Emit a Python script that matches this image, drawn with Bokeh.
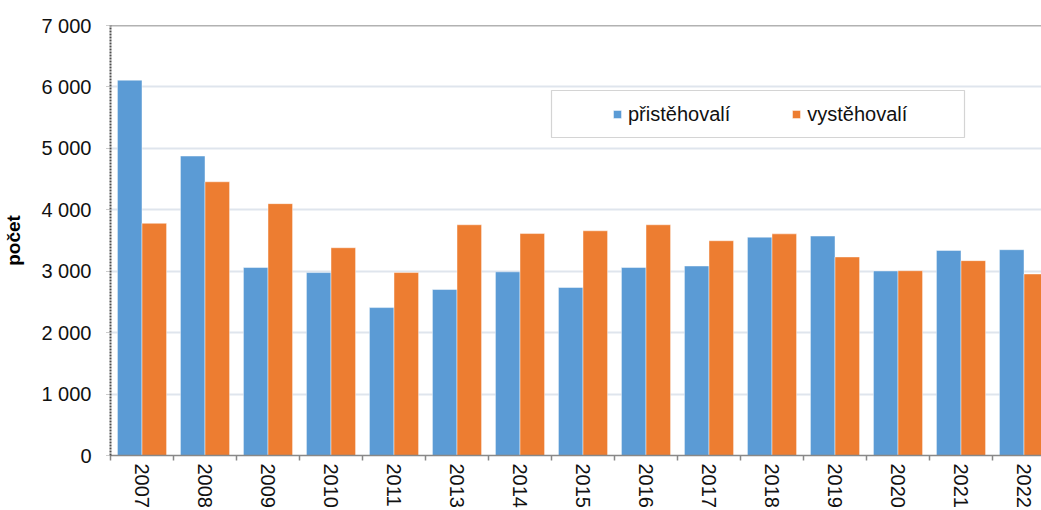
from bokeh.plotting import figure
from bokeh.models import (ColumnDataSource, Range1d, FixedTicker, Legend, LegendItem,
                          Span, BoxAnnotation)
from bokeh.transform import dodge
from bokeh.embed import file_html
from bokeh.resources import INLINE

# ---- data ----
years = ["2007", "2008", "2009", "2010", "2011", "2013", "2014", "2015",
         "2016", "2017", "2018", "2019", "2020", "2021", "2022"]
immigrants = [6110, 4875, 3060, 2978, 2408, 2702, 2990, 2735,
              3060, 3085, 3554, 3572, 3004, 3338, 3350]
emigrants = [3780, 4456, 4100, 3382, 2978, 3756, 3613, 3658,
             3756, 3496, 3608, 3232, 3008, 3172, 2955]
y_ticks = [0, 1000, 2000, 3000, 4000, 5000, 6000, 7000]
y_tick_labels = ["0", "1 000", "2 000", "3 000", "4 000", "5 000", "6 000", "7 000"]
series_names = ["přistěhovalí", "vystěhovalí"]
y_title = "počet"

BLUE = "#5B9BD5"
ORANGE = "#ED7D31"
FONT = "Liberation Sans"

n = len(years)
idx = list(range(n))
src = ColumnDataSource(dict(x=idx, imm=immigrants, emi=emigrants))

W, H = 1041, 510
LEFT, TOP = 110, 25
frame_w = W - LEFT
cat_px = 63.0
x_end = -0.5 + frame_w / cat_px

p = figure(width=W, height=H, output_backend="svg", toolbar_location=None,
           x_range=Range1d(-0.5, x_end), y_range=Range1d(0, 7000),
           min_border_left=LEFT, min_border_top=TOP, min_border_right=0,
           min_border_bottom=0)
p.outline_line_color = None
p.background_fill_color = "white"
p.border_fill_color = "white"

bw = 0.39
r1 = p.vbar(x=dodge("x", -bw / 2, range=p.x_range), top="imm", width=bw, source=src,
            fill_color=BLUE, line_color="white", line_alpha=0.45, line_width=1)
r2 = p.vbar(x=dodge("x", bw / 2, range=p.x_range), top="emi", width=bw, source=src,
            fill_color=ORANGE, line_color="white", line_alpha=0.45, line_width=1)

# grid
p.xgrid.grid_line_color = None
p.ygrid.grid_line_color = "#dfe5ed"
p.ygrid.grid_line_width = 2
p.ygrid.ticker = FixedTicker(ticks=y_ticks)

# y axis
ya = p.yaxis[0]
ya.ticker = FixedTicker(ticks=y_ticks)
ya.major_label_overrides = {t: l for t, l in zip(y_ticks, y_tick_labels)}
ya.major_label_text_font = FONT
ya.major_label_text_font_size = "20px"
ya.major_label_text_color = "#111111"
ya.major_label_standoff = 15
ya.major_tick_out = 4
ya.major_tick_in = 0
ya.major_tick_line_color = "#999999"
ya.major_tick_line_dash = "1 1"
ya.minor_tick_line_color = None
ya.axis_line_color = "#4d4d4d"
ya.axis_line_width = 2
ya.axis_line_dash = "2 1"
ya.axis_label = y_title
ya.axis_label_text_font = FONT
ya.axis_label_text_font_style = "bold"
ya.axis_label_text_font_size = "19px"
ya.axis_label_text_color = "#000000"
ya.axis_label_text_align = "left"
ya.axis_label_standoff = 14

# x axis
xa = p.xaxis[0]
xa.ticker = FixedTicker(ticks=idx, minor_ticks=[i - 0.5 for i in range(n + 1)])
xa.major_label_overrides = {i: y for i, y in zip(idx, years)}
xa.major_label_orientation = "vertical"
xa.major_label_text_font = FONT
xa.major_label_text_font_size = "20px"
xa.major_label_text_color = "#111111"
xa.major_label_standoff = 3
xa.major_tick_out = 5
xa.major_tick_in = 0
xa.major_tick_line_color = None
xa.minor_tick_out = 5
xa.minor_tick_in = 0
xa.minor_tick_line_color = "#888888"
xa.minor_tick_line_width = 1.5
xa.axis_line_color = "#888888"
xa.axis_line_width = 1.5

# top border
p.add_layout(Span(location=7000, dimension="width", line_color="#666666", line_width=1.5))

# legend box (screen units, relative to frame bottom-left)
p.add_layout(BoxAnnotation(left=441, right=854, bottom=318, top=365,
                           left_units="screen", right_units="screen",
                           top_units="screen", bottom_units="screen",
                           fill_color="white", fill_alpha=1.0,
                           line_color="#707070", line_width=1.2, level="annotation"))

legend = Legend(items=[LegendItem(label=series_names[0], renderers=[r1]),
                       LegendItem(label=series_names[1], renderers=[r2])],
                orientation="horizontal", location=(502, 329),
                padding=0, margin=0, spacing=61,
                glyph_width=10, glyph_height=10, label_standoff=6,
                label_height=24,
                label_text_font=FONT, label_text_font_size="20px",
                label_text_color="#111111",
                border_line_color=None, background_fill_alpha=0.0)
p.add_layout(legend, "center")

open("out.html", "w").write(file_html(p, INLINE))
